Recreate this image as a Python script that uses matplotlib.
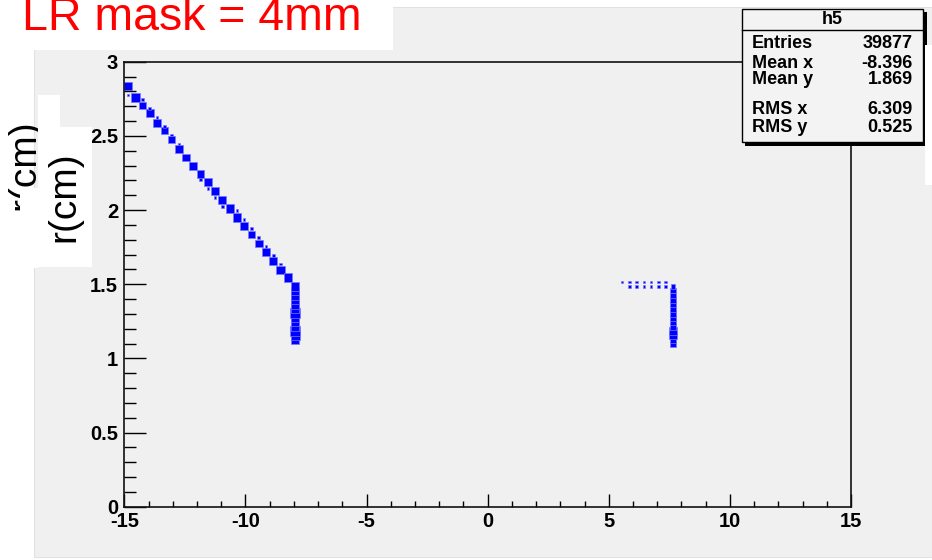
import matplotlib
matplotlib.use("Agg")
from matplotlib import pyplot as plt
from matplotlib.patches import Rectangle
import numpy as np

# h5 : r(cm) vs z(cm), TH2 drawn with the "box" option
# bin contents are relative (1.0 = biggest box on the picture)
diag_x = [-14.85, -14.55, -14.25, -13.95, -13.65, -13.35, -13.05, -12.75, -12.45, -12.15, -11.85, -11.55,
          -11.25, -10.95, -10.65, -10.35, -10.05, -9.75, -9.45, -9.15, -8.85, -8.55, -8.25]
diag_y = [2.835, 2.760, 2.705, 2.655, 2.585, 2.535, 2.475, 2.410, 2.355, 2.295, 2.245, 2.190,
          2.130, 2.070, 2.010, 1.950, 1.890, 1.835, 1.775, 1.715, 1.655, 1.595, 1.545]
diag_w = [1.0, 1.0, 0.9, 0.9, 0.9, 0.85, 0.85, 0.9, 0.9, 0.9, 0.9, 0.9,
          0.95, 0.95, 0.95, 0.95, 0.95, 0.9, 0.9, 0.9, 0.9, 0.95, 0.95]

side_x = [-14.85, -14.25, -13.95, -13.65, -13.35, -13.05, -12.75, -11.85, -11.55, -11.25, -10.95,
          -10.35, -10.05, -9.75, -9.45, -9.15, -8.85, -8.55]
side_y = [2.775, 2.745, 2.685, 2.625, 2.565, 2.505, 2.445, 2.205, 2.145, 2.085, 2.025,
          1.995, 1.935, 1.875, 1.815, 1.755, 1.695, 1.635]
side_w = [0.3, 0.25, 0.3, 0.3, 0.3, 0.3, 0.3, 0.3, 0.3, 0.3, 0.3,
          0.3, 0.3, 0.3, 0.3, 0.3, 0.3, 0.3]

left_col_x = -7.95
left_col_y = [1.125, 1.155, 1.185, 1.215, 1.245, 1.275, 1.305, 1.335, 1.365, 1.395, 1.425, 1.455, 1.485]
left_col_w = [1.0, 1.05, 1.1, 1.0, 1.0, 1.0, 1.1, 1.0, 1.0, 1.0, 1.0, 1.0, 1.0]

right_col_x = 7.65
right_col_y = [1.095, 1.125, 1.155, 1.185, 1.215, 1.245, 1.275, 1.305, 1.335, 1.365, 1.395, 1.425, 1.455, 1.485]
right_col_w = [0.65, 0.75, 0.85, 0.85, 0.8, 0.75, 0.7, 0.8, 0.7, 0.7, 0.65, 0.65, 0.6, 0.5]

dots_x = [5.55, 5.85, 6.15, 6.45, 6.75, 7.05, 7.35, 5.85, 6.15, 6.45, 6.75, 7.05, 7.35]
dots_y = [1.515, 1.515, 1.515, 1.515, 1.515, 1.515, 1.515, 1.485, 1.485, 1.485, 1.485, 1.485, 1.485]
dots_w = [0.3, 0.3, 0.3, 0.3, 0.3, 0.3, 0.3, 0.3, 0.3, 0.3, 0.3, 0.3, 0.3]

xticks = [-15, -10, -5, 0, 5, 10, 15]
xtick_labels = ["-15", "-10", "-5", "0", "5", "10", "15"]
yticks = [0, 0.5, 1, 1.5, 2, 2.5, 3]
ytick_labels = ["0", "0.5", "1", "1.5", "2", "2.5", "3"]

stats_names = ["Entries", "Mean x", "Mean y", "RMS x", "RMS y"]
stats_values = ["39877", "-8.396", "1.869", "6.309", "0.525"]

plt.rcParams["font.family"] = ["Liberation Sans", "DejaVu Sans"]
plt.rcParams["axes.unicode_minus"] = False

W, H = 932, 560
fig = plt.figure(figsize=(W / 100, H / 100), dpi=100)
fig.patch.set_facecolor("white")

def px_axes(z):
    a = fig.add_axes([0, 0, 1, 1], zorder=z)
    a.set_xlim(0, W)
    a.set_ylim(H, 0)
    a.axis("off")
    a.patch.set_alpha(0)
    return a

canvas_gray = "#f0f0f0"

# ROOT canvas behind everything
bg = px_axes(0)
bg.add_patch(Rectangle((34, 7), W - 34, 550, facecolor=canvas_gray, edgecolor="#e2e2e2", lw=0.8))

# main frame
x0, x1, y0, y1 = 124.3, 851, 506.7, 61.7
ax = fig.add_axes([x0 / W, (H - y0) / H, (x1 - x0) / W, (y0 - y1) / H], zorder=1)
ax.set_facecolor(canvas_gray)
ax.set_xlim(-15, 15)
ax.set_ylim(0, 3)

box_px = 8.6
def sizes(w):
    return (np.array(w) * box_px * 72 / 100) ** 2

blue = "#0000ff"
halo = "#7a7aff"
ax.scatter(diag_x, diag_y, s=sizes(diag_w), marker="s", c=blue, linewidths=0.5, edgecolors=halo)
ax.scatter(side_x, side_y, s=sizes(side_w), marker="s", c=blue, linewidths=0.4, edgecolors=halo)
ax.scatter([left_col_x] * len(left_col_y), left_col_y, s=sizes(left_col_w), marker="s", c=blue,
           linewidths=0.5, edgecolors=halo)
ax.scatter([right_col_x] * len(right_col_y), right_col_y, s=sizes(right_col_w), marker="s", c=blue,
           linewidths=0.5, edgecolors=halo)
ax.scatter(dots_x, dots_y, s=sizes(dots_w), marker="s", c=blue, linewidths=0.4, edgecolors=halo)

ax.set_xticks(xticks)
ax.set_xticklabels(xtick_labels)
ax.set_xticks(np.arange(-15, 16, 1), minor=True)
ax.set_yticks(yticks)
ax.set_yticklabels(ytick_labels)
ax.set_yticks(np.arange(0, 3.01, 0.1), minor=True)

ax.tick_params(axis="x", which="major", direction="in", length=9.4, width=1, pad=3.5,
               labelsize=14.5, top=False)
ax.tick_params(axis="x", which="minor", direction="in", length=4.3, width=1, top=False)
ax.tick_params(axis="y", which="major", direction="in", length=15.8, width=1, pad=4.5,
               labelsize=14.5, right=False)
ax.tick_params(axis="y", which="minor", direction="in", length=8.6, width=1, right=False)
for lab in ax.get_xticklabels() + ax.get_yticklabels():
    lab.set_fontweight("bold")
for sp in ax.spines.values():
    sp.set_linewidth(1.2)
    sp.set_color("#111111")

# pasted pieces on top
ov = px_axes(3)

# title
ov.add_patch(Rectangle((0, 0), 393, 50, facecolor="white", edgecolor="none", zorder=4))
ov.text(22, 30, "LR mask = 4mm", color="red", fontsize=33.5, ha="left", va="baseline", zorder=5)

# original ROOT y title, mostly hidden by the pasted one
ov.text(24, 165, "r(cm)", fontsize=28, rotation=90, ha="center", va="center", color="black", zorder=3)
ov.add_patch(Rectangle((38, 95), 22, 32, facecolor="white", edgecolor="none", zorder=4))
ov.add_patch(Rectangle((20, 188), 18, 80, facecolor="white", edgecolor="none", zorder=4))
ov.add_patch(Rectangle((38, 127), 54, 140, facecolor="white", edgecolor="none", zorder=4))
ov.text(64, 197, "r(cm)", fontsize=28, rotation=90, ha="center", va="center", color="black", zorder=5)

# stats box
ov.add_patch(Rectangle((745, 12), 182, 134, facecolor="black", edgecolor="none", zorder=4))
ov.add_patch(Rectangle((742, 9), 181, 133, facecolor="#f3f3f3", edgecolor="black", lw=1, zorder=4))
ov.plot([742, 923], [30, 30], color="black", lw=1, zorder=5)
ov.add_patch(Rectangle((925, 45), 7, 140, facecolor="white", edgecolor="none", zorder=4))
ov.text(832, 19.5, "h5", fontsize=13, fontweight="bold", ha="center", va="center", zorder=6)
rows_y = [43, 63, 80, 110, 128]
for name, val, yy in zip(stats_names, stats_values, rows_y):
    ov.text(752, yy, name, fontsize=13, fontweight="bold", ha="left", va="center", zorder=6)
    ov.text(913, yy, val, fontsize=13, fontweight="bold", ha="right", va="center", zorder=6)

fig.savefig("out.png", dpi=100)
